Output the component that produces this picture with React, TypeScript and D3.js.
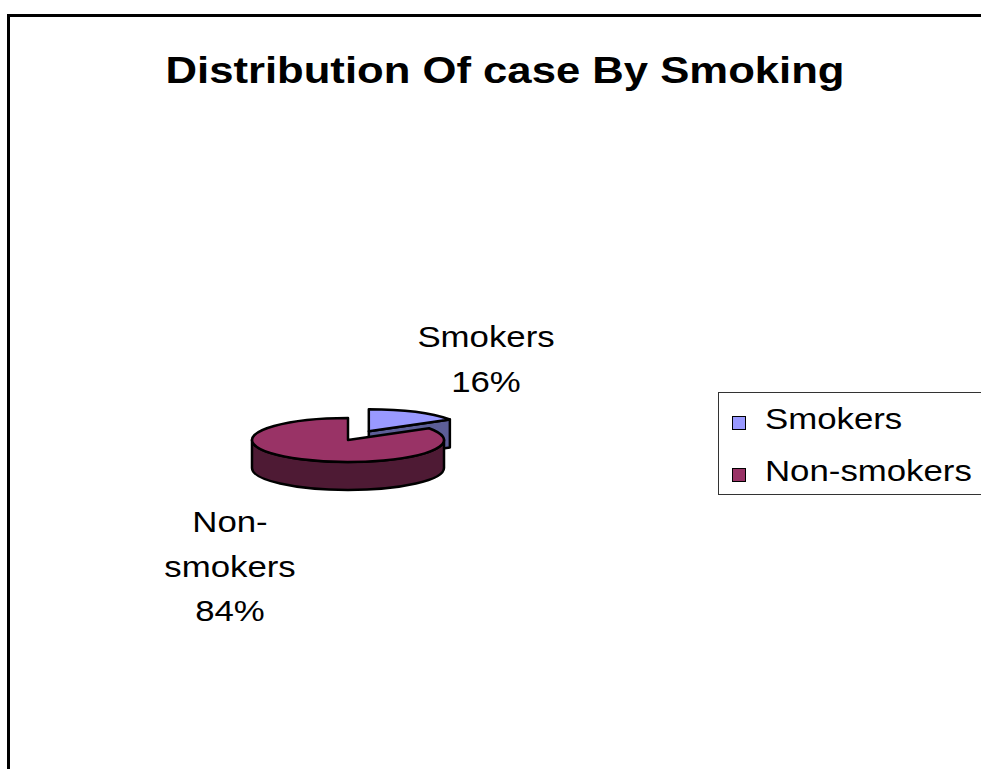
import React from "react";
import * as d3 from "d3";

// Chart data
const categories: string[] = ["Smokers", "Non-smokers"];
const percentages: number[] = [16, 84];
const labelLines: string[][] = [["Smokers", "16%"], ["Non-", "smokers", "84%"]];
const topColors: string[] = ["#9999FF", "#993366"];
const sideColors: string[] = ["#5C5E97", "#4E1A34"];

const W = 981;
const H = 769;

// 3D pie layout
const CX = 348;
const CY = 440;
const RX = 96;
const RY = 22;
const DEPTH = 28;
const EXPLODE = [0.45, 0];

// Text is drawn slightly wide
const SX = 1.16;
const FONT = "'Liberation Sans', Arial, Helvetica, sans-serif";

type Slice = d3.PieArcDatum<number> & { i: number; ox: number; oy: number };

function rim(a: number, ox: number, oy: number, dz = 0): [number, number] {
  return [CX + ox + RX * Math.sin(a), CY + oy - RY * Math.cos(a) + dz];
}

function topPath(s: Slice): string {
  const [x0, y0] = rim(s.startAngle, s.ox, s.oy);
  const [x1, y1] = rim(s.endAngle, s.ox, s.oy);
  const large = s.endAngle - s.startAngle > Math.PI ? 1 : 0;
  return `M${CX + s.ox},${CY + s.oy}L${x0},${y0}A${RX},${RY} 0 ${large} 1 ${x1},${y1}Z`;
}

function outerSidePath(s: Slice): string | null {
  const b0 = Math.max(s.startAngle, Math.PI / 2);
  const b1 = Math.min(s.endAngle, (3 * Math.PI) / 2);
  if (b1 <= b0) return null;
  const [x0, y0] = rim(b0, s.ox, s.oy);
  const [x1, y1] = rim(b1, s.ox, s.oy);
  const large = b1 - b0 > Math.PI ? 1 : 0;
  return (
    `M${x0},${y0}A${RX},${RY} 0 ${large} 1 ${x1},${y1}` +
    `L${x1},${y1 + DEPTH}A${RX},${RY} 0 ${large} 0 ${x0},${y0 + DEPTH}Z`
  );
}

function radialFace(s: Slice, a: number): string {
  const cx = CX + s.ox;
  const cy = CY + s.oy;
  const [x, y] = rim(a, s.ox, s.oy);
  return `M${cx},${cy}L${x},${y}L${x},${y + DEPTH}L${cx},${cy + DEPTH}Z`;
}

function StretchText(props: {
  x: number;
  y: number;
  size: number;
  weight?: string | number;
  anchor?: "start" | "middle" | "end";
  sx?: number;
  children: React.ReactNode;
}) {
  const { x, y, size, weight = "normal", anchor = "middle", sx = SX, children } = props;
  return (
    <text
      transform={`translate(${x},${y}) scale(${sx},1)`}
      fontFamily={FONT}
      fontSize={size}
      fontWeight={weight}
      textAnchor={anchor}
      fill="#000"
    >
      {children}
    </text>
  );
}

export default function App() {
  const pie = d3
    .pie<number>()
    .sort(null)
    .value((d) => d)
    .startAngle(0)
    .endAngle(2 * Math.PI);

  const slices: Slice[] = pie(percentages).map((d, i) => {
    const mid = (d.startAngle + d.endAngle) / 2;
    return {
      ...d,
      i,
      ox: EXPLODE[i] * RX * Math.sin(mid),
      oy: -EXPLODE[i] * RY * Math.cos(mid),
    };
  });

  // back-to-front drawing order
  const ordered = [...slices].sort(
    (a, b) =>
      -Math.cos((a.startAngle + a.endAngle) / 2) +
      Math.cos((b.startAngle + b.endAngle) / 2)
  );

  const labelPos: [number, number][] = [
    [486, 347],
    [230, 532],
  ];
  const lineGap = 44.5;

  const legendX = 718.5;
  const legendY = 392.5;
  const legendRowY = [423, 475];

  return (
    <svg
      width={W}
      height={H}
      viewBox={`0 0 ${W} ${H}`}
      style={{ position: "fixed", left: 0, top: 0, background: "#fff" }}
    >
      <rect x={0} y={0} width={W} height={H} fill="#fff" />
      {/* chart frame */}
      <rect
        x={8.5}
        y={15.5}
        width={W + 40}
        height={H + 40}
        fill="none"
        stroke="#000"
        strokeWidth={3}
      />

      <StretchText x={505} y={83} size={37} weight="bold" sx={1.18}>
        Distribution Of case By Smoking
      </StretchText>

      {/* 3D pie */}
      <g stroke="#000" strokeWidth={2.5} strokeLinejoin="round">
        {ordered.map((s) => {
          const side = outerSidePath(s);
          const faces: string[] = [];
          if (Math.cos(s.endAngle + Math.PI / 2) < -1e-6) faces.push(radialFace(s, s.endAngle));
          if (Math.cos(s.startAngle - Math.PI / 2) < -1e-6) faces.push(radialFace(s, s.startAngle));
          return (
            <g key={categories[s.i]}>
              {faces.map((f, k) => (
                <path key={k} d={f} fill={sideColors[s.i]} />
              ))}
              {side && <path d={side} fill={sideColors[s.i]} />}
              <path d={topPath(s)} fill={topColors[s.i]} />
            </g>
          );
        })}
      </g>

      {/* data labels */}
      {labelLines.map((lines, i) =>
        lines.map((ln, k) => (
          <StretchText
            key={`${i}-${k}`}
            x={labelPos[i][0]}
            y={labelPos[i][1] + k * lineGap}
            size={30}
          >
            {ln}
          </StretchText>
        ))
      )}

      {/* legend */}
      <rect
        x={legendX}
        y={legendY}
        width={W}
        height={102}
        fill="#fff"
        stroke="#333"
        strokeWidth={1}
      />
      {categories.map((c, i) => (
        <g key={c}>
          <rect
            x={732.5}
            y={legendRowY[i] - 6.5}
            width={13}
            height={13}
            fill={topColors[i]}
            stroke="#000"
            strokeWidth={1}
          />
          <StretchText x={765} y={legendRowY[i] + 6} size={30} anchor="start">
            {c}
          </StretchText>
        </g>
      ))}
    </svg>
  );
}
